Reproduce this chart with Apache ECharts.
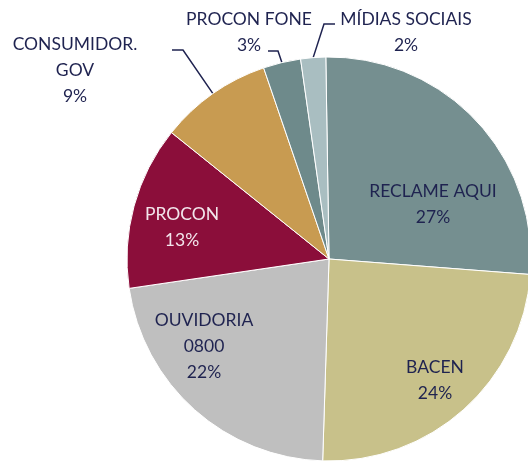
<!DOCTYPE html>
<html>
<head>
<meta charset="utf-8">
<script src="https://cdn.jsdelivr.net/npm/echarts@6/dist/echarts.min.js"></script>
<style>
  html, body { margin: 0; padding: 0; background: #fff; }
  #chart { width: 528px; height: 461px; }
</style>
</head>
<body>
<div id="chart"></div>
<script>
// Complaint channels, share of total (%)
var channels = ['RECLAME AQUI', 'BACEN', 'OUVIDORIA 0800', 'PROCON', 'CONSUMIDOR. GOV', 'PROCON FONE', 'MÍDIAS SOCIAIS'];
var shares = [26.5, 24.3, 22.2, 13.1, 9.0, 3.0, 2.0];

var sliceColors = ['#758f90', '#c8c18a', '#bfbfbf', '#8b0e3a', '#c89b51', '#6e8a8b', '#a9bec1'];
var textColor = '#1f2350';

// pie geometry
var cx = 329, cy = 259, R = 202;
var firstSliceTilt = 0.9; // degrees the first slice starts left of 12 o'clock

// label block centres, offsets from the pie centre
var labelSpots = [[104, -55], [106, 121], [-125, 87], [-147, -32], [-254, -189], [-80, -227], [77, -227]];
// leader lines for the small outside slices: [elbow, end] offsets from centre
var leaders = {
    4: [[-146, -209], [-157, -209]],
    5: [[-51, -208], [-61, -208]],
    6: [[-5, -235], [6, -235]]
};

var total = shares.reduce((a, b) => a + b, 0);

// clockwise angle from 12 o'clock to the middle of slice i, radians
function midAngle(i) {
    var before = shares.slice(0, i).reduce((a, b) => a + b, 0);
    return (before + shares[i] / 2) / total * 2 * Math.PI - firstSliceTilt * Math.PI / 180;
}

var chart = echarts.init(document.getElementById('chart'));

chart.setOption({
    animation: false,
    series: [{
        type: 'pie',
        center: [cx, cy],
        radius: R,
        startAngle: 90 + firstSliceTilt,
        clockwise: true,
        silent: true,
        itemStyle: {
            borderColor: '#ffffff',
            borderWidth: 1
        },
        label: {
            show: true,
            position: 'outside',
            alignTo: 'none',
            overflow: 'none',
            fontFamily: 'Lato',
            fontSize: 17.5,
            lineHeight: 26,
            color: textColor,
            formatter: function (p) {
                var name = (p.dataIndex === 2 || p.dataIndex === 4) ? p.name.replace(' ', '\n') : p.name;
                return name + '\n' + Math.round(p.value) + '%';
            }
        },
        labelLine: {
            show: true,
            lineStyle: { color: textColor, width: 1.5 }
        },
        labelLayout: function (params) {
            var i = params.dataIndex;
            var spot = labelSpots[i];
            var res = {
                x: cx + spot[0],
                y: cy + spot[1],
                align: 'center',
                verticalAlign: 'middle'
            };
            if (leaders[i]) {
                var a = midAngle(i);
                var edge = [cx + R * Math.sin(a), cy - R * Math.cos(a)];
                res.labelLinePoints = [
                    edge,
                    [cx + leaders[i][0][0], cy + leaders[i][0][1]],
                    [cx + leaders[i][1][0], cy + leaders[i][1][1]]
                ];
            }
            return res;
        },
        data: channels.map(function (name, i) {
            var item = {
                name: name,
                value: shares[i],
                itemStyle: { color: sliceColors[i] }
            };
            if (!leaders[i]) {
                item.labelLine = { show: false };
            }
            if (i === 3) {
                item.label = { color: '#f3e6ec' };
            }
            return item;
        })
    }]
});
</script>
</body>
</html>
